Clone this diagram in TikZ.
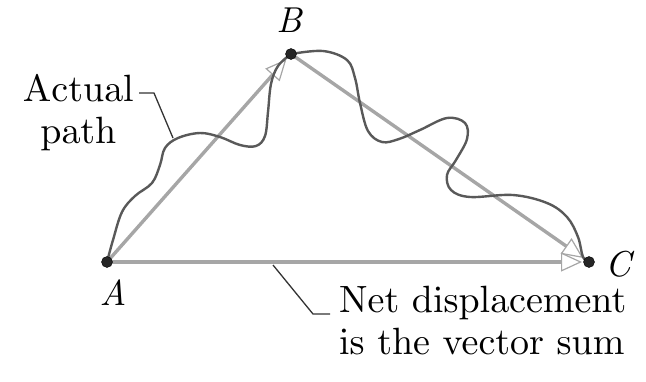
\documentclass[tikz,border=0pt]{standalone}
\usetikzlibrary{arrows.meta}
\font\labelrm=cmr10 at 38pt
\font\labelit=cmti10 at 36pt
\def\lblfont{\labelrm\baselineskip=42pt\relax}
\begin{document}
\begin{tikzpicture}[x=1pt,y=-1pt,
  vec/.style={draw=black!35,line width=3.4pt,
    -{Triangle[open,length=21pt,width=19pt,line width=1.2pt,fill=white]},shorten >=7pt},
  actual/.style={draw=black!65,line width=2.4pt,line cap=round,line join=round},
  dotpt/.style={circle,fill=black!85,draw=black,inner sep=0pt,minimum size=11pt},
  lbl/.style={font=\lblfont,inner sep=0pt},
  ptl/.style={font=\labelit,inner sep=0pt},
  leader/.style={draw=black!80,line width=1.3pt}]
\useasboundingbox (0,0) rectangle (646,381);
% points
\coordinate (pA) at (107,262);
\coordinate (pB) at (291,54);
\coordinate (pC) at (589,262);
% vectors
\draw[vec] (pA) -- (pB);
\draw[vec] (pB) -- (pC);
\draw[vec] (pA) -- (pC);
% actual path
\draw[actual] plot[smooth,tension=0.6] coordinates {
 (107,262) (113,240) (122,212) (135,196) (152,183) (160,165) (165,148)
 (178,138) (200,133) (220,137) (240,145) (256,146) (265,136) (268,112)
 (271,84) (278,66) (291,54)};
\draw[actual] plot[smooth,tension=0.6] coordinates {
 (291,54) (323,51) (347,60) (355,78) (360,103) (368,131) (382,142)
 (399,139) (420,130) (447,118) (465,123) (467,139) (456,160) (447,175)
 (451,190) (470,197) (513,195) (547,203) (567,217) (578,237) (583,257) (589,262)};
% dots
\node[dotpt] (A) at (pA) {};
\node[dotpt] (B) at (pB) {};
\node[dotpt] (C) at (pC) {};
% point labels
\node[ptl] (lA) at (113,293) {A};
\node[ptl] (lB) at (289,20) {B};
\node[ptl] (lC) at (618,264) {C};
% leaders
\coordinate (ap) at (173,138);
\coordinate (apk) at (154,93);
\coordinate (net) at (273,265);
\coordinate (netk) at (313,314);
\node[lbl,align=center,anchor=east] (actualtxt) at (134,113) {Actual\\path};
\draw[leader] (ap) -- (apk) -- (139,93);
\node[lbl,align=left,anchor=north west] (nettxt) at (339,286) {Net displacement\\is the vector sum};
\draw[leader] (net) -- (netk) -- (330,314);
\end{tikzpicture}
\end{document}
